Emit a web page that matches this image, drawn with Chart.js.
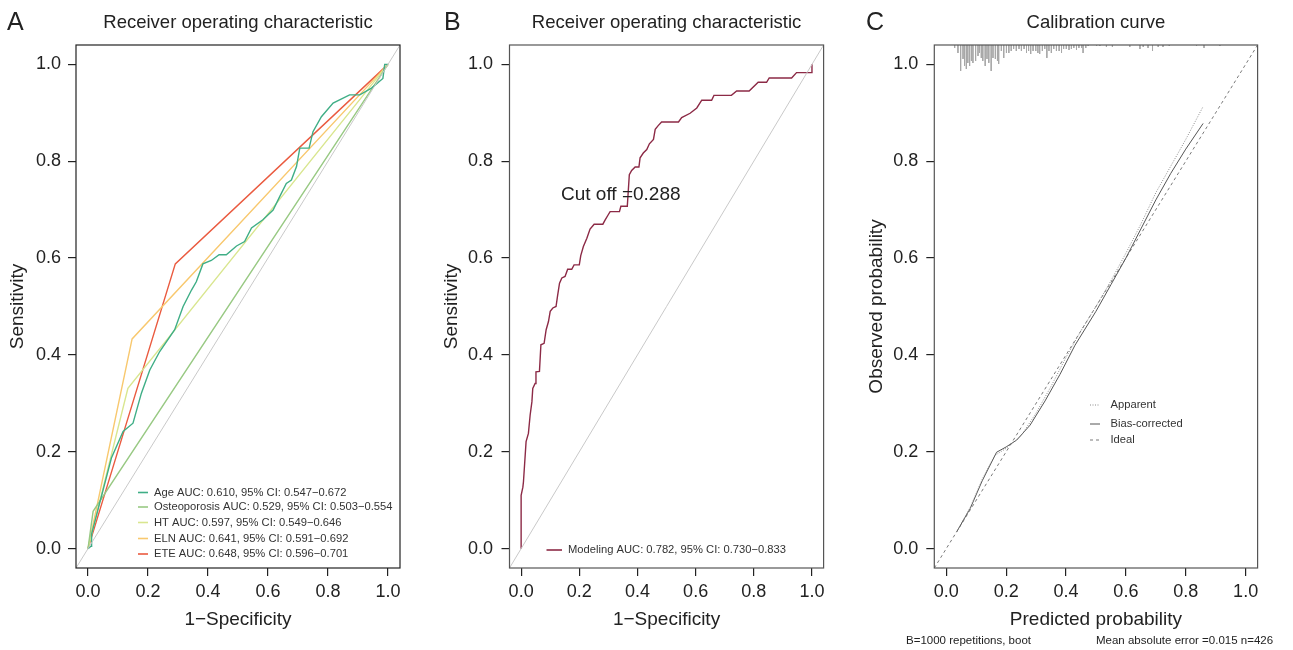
<!DOCTYPE html>
<html>
<head>
<meta charset="utf-8">
<script src="https://cdn.jsdelivr.net/npm/chart.js@4.4.1/dist/chart.umd.min.js"></script>
<style>
    html, body { margin: 0; padding: 0; background: #fff; }
    #wrap { position: relative; width: 1293px; height: 650px; }
    #wrap canvas { position: absolute; top: 0; }
</style>
</head>
<body>
<div id="wrap">
    <canvas id="panel-a" width="430" height="650" style="left:0;width:430px;height:650px"></canvas>
    <canvas id="panel-b" width="430" height="650" style="left:430px;width:430px;height:650px"></canvas>
    <canvas id="panel-c" width="433" height="650" style="left:860px;width:433px;height:650px"></canvas>
</div>
<script>
// shared axis ticks (R style: range padded by 4%)
const TICKS = [0, 0.2, 0.4, 0.6, 0.8, 1.0];
const AXIS_MIN = -0.04;
const AXIS_MAX = 1.04;
const REF_LINE = [-0.04, 1.04];

// Panel A - single-variable ROC curves
const AGE_FPR = [0, 0.01, 0.012, 0.078, 0.117, 0.150, 0.178, 0.206, 0.239, 0.289, 0.317, 0.345, 0.361, 0.383, 0.411, 0.437, 0.461, 0.495, 0.522, 0.545, 0.583, 0.617, 0.639, 0.661, 0.678, 0.695, 0.706, 0.737, 0.750, 0.778, 0.817, 0.872, 0.906, 0.945, 0.983, 0.989, 1];
const AGE_TPR = [0, 0.005, 0.03, 0.187, 0.242, 0.259, 0.321, 0.369, 0.407, 0.452, 0.500, 0.534, 0.551, 0.588, 0.595, 0.607, 0.607, 0.625, 0.634, 0.662, 0.679, 0.699, 0.727, 0.754, 0.761, 0.789, 0.827, 0.827, 0.861, 0.892, 0.920, 0.937, 0.937, 0.951, 0.971, 1.0, 1.0];
const OST_FPR = [0, 0.017, 1];
const OST_TPR = [0, 0.077, 1];
const HT_FPR = [0, 0.133, 1];
const HT_TPR = [0, 0.331, 1];
const ELN_FPR = [0, 0.147, 1];
const ELN_TPR = [0, 0.433, 1];
const ETE_FPR = [0, 0.291, 1];
const ETE_TPR = [0, 0.588, 1];
const LABELS_A = [
    'Age AUC: 0.610, 95% CI: 0.547\u22120.672',
    'Osteoporosis AUC: 0.529, 95% CI: 0.503\u22120.554',
    'HT AUC: 0.597, 95% CI: 0.549\u22120.646',
    'ELN AUC: 0.641, 95% CI: 0.591\u22120.692',
    'ETE AUC: 0.648, 95% CI: 0.596\u22120.701'
];

// Panel B - modeling ROC curve
const MODEL_FPR = [0, 0, 0.006, 0.008, 0.017, 0.025, 0.031, 0.037, 0.040, 0.048, 0.051, 0.063, 0.068, 0.079, 0.086, 0.094, 0.100, 0.109, 0.120, 0.125, 0.132, 0.140, 0.151, 0.160, 0.174, 0.182, 0.200, 0.205, 0.214, 0.226, 0.237, 0.251, 0.281, 0.289, 0.300, 0.306, 0.338, 0.343, 0.365, 0.372, 0.380, 0.392, 0.405, 0.409, 0.420, 0.432, 0.441, 0.455, 0.461, 0.472, 0.483, 0.541, 0.552, 0.581, 0.604, 0.621, 0.655, 0.663, 0.723, 0.741, 0.784, 0.815, 0.844, 0.853, 0.930, 0.947, 1.0, 1.0];
const MODEL_TPR = [0, 0.110, 0.127, 0.138, 0.221, 0.238, 0.276, 0.303, 0.331, 0.341, 0.365, 0.366, 0.421, 0.424, 0.452, 0.469, 0.490, 0.497, 0.500, 0.521, 0.548, 0.559, 0.562, 0.577, 0.577, 0.586, 0.586, 0.605, 0.624, 0.641, 0.660, 0.670, 0.670, 0.679, 0.690, 0.696, 0.696, 0.707, 0.707, 0.772, 0.781, 0.788, 0.788, 0.807, 0.817, 0.824, 0.836, 0.845, 0.866, 0.874, 0.881, 0.881, 0.890, 0.899, 0.910, 0.926, 0.926, 0.936, 0.936, 0.945, 0.945, 0.963, 0.963, 0.972, 0.972, 0.983, 0.983, 1.0];
const LABEL_B = 'Modeling AUC: 0.782, 95% CI: 0.730\u22120.833';

// Panel C - calibration curve
const APP_PRED = [0.035, 0.08, 0.12, 0.161, 0.2, 0.25, 0.3, 0.35, 0.4, 0.45, 0.5, 0.55, 0.6, 0.65, 0.7, 0.75, 0.8, 0.858];
const APP_OBS = [0.035, 0.085, 0.143, 0.192, 0.207, 0.233, 0.28, 0.335, 0.395, 0.45, 0.5, 0.553, 0.61, 0.67, 0.735, 0.79, 0.845, 0.913];
const BC_PRED = [0.035, 0.08, 0.12, 0.168, 0.2, 0.235, 0.28, 0.33, 0.38, 0.43, 0.5, 0.55, 0.6, 0.65, 0.7, 0.75, 0.8, 0.858];
const BC_OBS = [0.035, 0.083, 0.14, 0.199, 0.21, 0.224, 0.255, 0.305, 0.36, 0.42, 0.49, 0.545, 0.6, 0.66, 0.72, 0.775, 0.825, 0.878];
// distribution of predicted probabilities (spike counts along the top)
const RUG_PRED = [0.028, 0.039, 0.048, 0.056, 0.061, 0.067, 0.072, 0.078, 0.084, 0.089, 0.098, 0.106, 0.111, 0.117, 0.122, 0.130, 0.136, 0.142, 0.150, 0.156, 0.164, 0.171, 0.175, 0.184, 0.192, 0.201, 0.209, 0.217, 0.225, 0.234, 0.243, 0.251, 0.260, 0.268, 0.275, 0.282, 0.290, 0.299, 0.306, 0.312, 0.321, 0.329, 0.336, 0.343, 0.351, 0.359, 0.368, 0.377, 0.385, 0.392, 0.401, 0.410, 0.418, 0.426, 0.435, 0.443, 0.452, 0.457, 0.466, 0.474, 0.502, 0.513, 0.535, 0.555, 0.613, 0.647, 0.658, 0.674, 0.689, 0.708, 0.724, 0.745, 0.836, 0.861, 0.914];
const RUG_FREQ = [3, 8, 26, 14, 21, 24, 18, 21, 16, 18, 16, 11, 8, 13, 16, 21, 14, 18, 26, 13, 14, 16, 19, 6, 13, 8, 8, 6, 4, 6, 4, 6, 4, 8, 6, 9, 6, 6, 8, 9, 6, 4, 13, 6, 8, 4, 6, 6, 8, 4, 4, 5, 4, 3, 5, 3, 3, 8, 3, 1, 1, 1, 2, 2, 2, 4, 2, 3, 6, 2, 2, 1, 1, 3, 1];
const RUG_TOP = 1.04;
const RUG_UNIT = 0.00206;

const FONT = '"Liberation Sans", Arial, Helvetica, sans-serif';
Chart.defaults.font.family = FONT;
Chart.defaults.animation = false;

const zip = (xs, ys) => xs.map((x, i) => ({ x: x, y: ys[i] }));

// box, letters, titles, inset legends
const panelText = {
    id: 'panelText',
    afterDraw(chart) {
        const o = chart.options.plugins.panelText;
        const ctx = chart.ctx;
        const a = chart.chartArea;
        ctx.save();
        ctx.strokeStyle = o.boxColor;
        ctx.lineWidth = 1.2;
        ctx.setLineDash([]);
        ctx.strokeRect(a.left, a.top, a.right - a.left, a.bottom - a.top);
        ctx.textBaseline = 'middle';
        (o.texts || []).forEach(t => {
            ctx.font = t.size + 'px ' + FONT;
            ctx.fillStyle = t.color || '#222';
            ctx.textAlign = t.align || 'left';
            const x = t.x === 'center' ? (a.left + a.right) / 2 : t.x;
            ctx.fillText(t.text, x, t.y);
        });
        const lg = o.legend;
        if (lg) {
            ctx.font = lg.size + 'px ' + FONT;
            ctx.textAlign = 'left';
            lg.items.forEach((it, i) => {
                const ds = chart.data.datasets[it];
                const y = lg.ys[i];
                ctx.strokeStyle = ds.borderColor;
                ctx.lineWidth = lg.lineWidth;
                ctx.setLineDash(ds.borderDash || []);
                ctx.beginPath();
                ctx.moveTo(lg.x0, y);
                ctx.lineTo(lg.x1, y);
                ctx.stroke();
                ctx.setLineDash([]);
                ctx.fillStyle = '#333';
                ctx.fillText(ds.label, lg.tx, y);
            });
        }
        ctx.restore();
    }
};

function buildScales(o) {
    const tickAxis = (extra) => Object.assign({
        type: 'linear',
        min: AXIS_MIN,
        max: AXIS_MAX,
        afterBuildTicks: s => { s.ticks = TICKS.map(v => ({ value: v })); },
        grid: { display: true, drawOnChartArea: false, drawTicks: true, tickLength: 8, color: '#222', lineWidth: 1.2 },
        border: { display: false }
    }, extra);
    return {
        x: tickAxis({
            afterFit: s => { s.height = 82; },
            ticks: { color: '#222', font: { size: 18 }, padding: 5, maxRotation: 0, autoSkip: false, callback: v => v.toFixed(1) },
            title: { display: true, text: o.xTitle, color: '#222', font: { size: 19 }, padding: { top: 0, bottom: 18.6 } }
        }),
        y: tickAxis({
            afterFit: s => { s.width = o.yWidth; },
            ticks: { color: '#222', font: { size: 18 }, padding: o.yPad, autoSkip: false, callback: v => v.toFixed(1) },
            title: { display: true, text: o.yTitle, color: '#222', font: { size: 19 }, padding: { top: o.yTitlePad, bottom: 0 } }
        })
    };
}

function lineSet(label, data, color, width, extra) {
    return Object.assign({
        label: label, data: data, showLine: true, borderColor: color, backgroundColor: color,
        borderWidth: width, pointRadius: 0, tension: 0, fill: false
    }, extra || {});
}

function makeChart(id, datasets, o) {
    return new Chart(document.getElementById(id), {
        type: 'scatter',
        data: { datasets: datasets },
        options: {
            responsive: false,
            devicePixelRatio: 1,
            layout: { padding: { top: 45, left: 0, right: o.padRight, bottom: 0 } },
            scales: buildScales(o),
            plugins: { legend: { display: false }, tooltip: { enabled: false }, panelText: o.text }
        },
        plugins: [panelText]
    });
}

// Panel A
makeChart('panel-a', [
    lineSet('', zip(REF_LINE, REF_LINE), '#c9c9c9', 1),
    lineSet(LABELS_A[0], zip(AGE_FPR, AGE_TPR), '#3fae86', 1.4),
    lineSet(LABELS_A[1], zip(OST_FPR, OST_TPR), '#98c983', 1.4),
    lineSet(LABELS_A[2], zip(HT_FPR, HT_TPR), '#d9e68f', 1.4),
    lineSet(LABELS_A[3], zip(ELN_FPR, ELN_TPR), '#f8c86e', 1.4),
    lineSet(LABELS_A[4], zip(ETE_FPR, ETE_TPR), '#ea5a3f', 1.4)
], {
    xTitle: '1\u2212Specificity', yTitle: 'Sensitivity', yWidth: 76, yPad: 7, yTitlePad: 6.6, padRight: 30,
    text: {
        boxColor: '#222',
        texts: [
            { text: 'A', x: 7, y: 23, size: 25 },
            { text: 'Receiver operating characteristic', x: 'center', y: 23, size: 18.5, align: 'center' }
        ],
        legend: { items: [1, 2, 3, 4, 5], ys: [492.5, 507, 522.5, 538.5, 554], x0: 138, x1: 148, tx: 154, size: 11.2, lineWidth: 1.6 }
    }
});

// Panel B
makeChart('panel-b', [
    lineSet('', zip(REF_LINE, REF_LINE), '#c9c9c9', 1),
    lineSet(LABEL_B, zip(MODEL_FPR, MODEL_TPR), '#8c2a46', 1.4)
], {
    xTitle: '1\u2212Specificity', yTitle: 'Sensitivity', yWidth: 79.5, yPad: 8.4, yTitlePad: 10.6, padRight: 36.4,
    text: {
        boxColor: '#555',
        texts: [
            { text: 'B', x: 14, y: 23, size: 25 },
            { text: 'Receiver operating characteristic', x: 'center', y: 23, size: 18.5, align: 'center' },
            { text: 'Cut off =0.288', x: 131, y: 195, size: 19 }
        ],
        legend: { items: [1], ys: [550], x0: 116.5, x1: 132, tx: 138, size: 11.2, lineWidth: 1.6 }
    }
});

// Panel C
const rugPoints = [];
RUG_PRED.forEach((p, i) => {
    rugPoints.push({ x: p, y: RUG_TOP }, { x: p, y: RUG_TOP - RUG_FREQ[i] * RUG_UNIT }, { x: p, y: null });
});
makeChart('panel-c', [
    lineSet('Apparent', zip(APP_PRED, APP_OBS), '#8a8a8a', 1, { borderDash: [1, 1.5] }),
    lineSet('Bias-corrected', zip(BC_PRED, BC_OBS), '#555555', 1),
    lineSet('Ideal', zip(REF_LINE, REF_LINE), '#7a7a7a', 1, { borderDash: [3, 3] }),
    lineSet('', rugPoints, '#a8a8a8', 1, { spanGaps: false })
], {
    xTitle: 'Predicted probability', yTitle: 'Observed probability', yWidth: 74.3, yPad: 8, yTitlePad: 5.6, padRight: 35.4,
    text: {
        boxColor: '#555',
        texts: [
            { text: 'C', x: 6, y: 23, size: 25 },
            { text: 'Calibration curve', x: 'center', y: 23, size: 18.5, align: 'center' },
            { text: 'B=1000 repetitions, boot', x: 46, y: 641, size: 11.5 },
            { text: 'Mean absolute error =0.015 n=426', x: 236, y: 641, size: 11.5 }
        ],
        legend: { items: [0, 1, 2], ys: [405, 424, 440], x0: 230, x1: 240, tx: 250.5, size: 11.2, lineWidth: 1 }
    }
});
</script>
</body>
</html>
